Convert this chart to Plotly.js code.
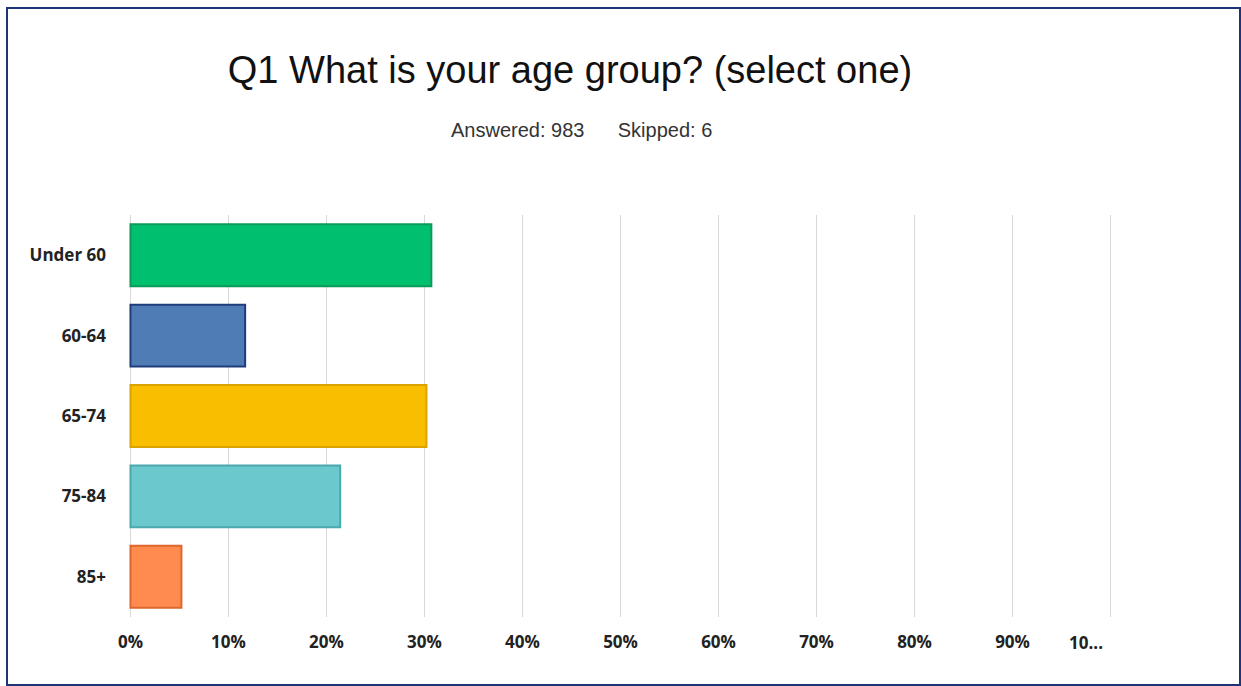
<!DOCTYPE html>
<html>
<head>
<meta charset="utf-8">
<script src="https://cdn.plot.ly/plotly-3.0.1.min.js"></script>
<style>
  html, body { margin: 0; padding: 0; background: #ffffff; }
  #wrap { position: relative; width: 1241px; height: 686px; overflow: hidden; }
  #frame { position: absolute; left: 6px; top: 7px; width: 1231px; height: 675px; border: 2px solid #1d3577; pointer-events: none; }
  #chart { position: absolute; left: 0; top: 0; width: 1241px; height: 686px; }
</style>
</head>
<body>
<div id="wrap">
  <div id="chart"></div>
  <div id="frame"></div>
</div>
<script>
const categories = ["Under 60", "60-64", "65-74", "75-84", "85+"];
const values = [30.7, 11.7, 30.2, 21.4, 5.2];
const fillColors = ["#00bf6f", "#507cb6", "#f9be00", "#6bc8cd", "#ff8b4f"];
const lineColors = ["#0b9a57", "#1f3d7a", "#d9a300", "#4aa8ae", "#de6730"];
const tickVals = [0, 10, 20, 30, 40, 50, 60, 70, 80, 90, 100];
const tickText = ["0%", "10%", "20%", "30%", "40%", "50%", "60%", "70%", "80%", "90%", ""];
const lastTickText = "10...";
const titleText = "Q1 What is your age group? (select one)";
const subtitleText = "Answered: 983&nbsp;&nbsp;&nbsp;&nbsp;&nbsp;&nbsp;Skipped: 6";

const tickFont = { family: "Open Sans, sans-serif", size: 17, color: "#222222", weight: 700 };

const trace = {
  type: "bar",
  orientation: "h",
  x: values,
  y: categories,
  marker: { color: fillColors, line: { color: lineColors, width: 2 } },
  hoverinfo: "none"
};

const layout = {
  width: 1241,
  height: 686,
  margin: { l: 129, r: 129, t: 215, b: 69 },
  paper_bgcolor: "#ffffff",
  plot_bgcolor: "#ffffff",
  showlegend: false,
  bargap: 0.23,
  title: {
    text: titleText,
    font: { family: "Liberation Sans, Arial, sans-serif", size: 38, color: "#111111" },
    x: 570 / 1241, xanchor: "center", xref: "container",
    y: 1 - 70 / 686, yanchor: "middle", yref: "container"
  },
  annotations: [{
    text: subtitleText,
    xref: "paper", yref: "paper",
    x: (581 - 129) / 983, y: (617 - 130) / 402,
    xanchor: "center", yanchor: "middle",
    showarrow: false,
    font: { family: "Liberation Sans, Arial, sans-serif", size: 20, color: "#333333" }
  }, {
    text: lastTickText,
    xref: "x", yref: "paper",
    x: 100, xshift: -25, y: -(642 - 617) / 402,
    xanchor: "center", yanchor: "middle",
    showarrow: false,
    font: tickFont
  }],
  xaxis: {
    range: [-0.15, 100.15],
    tickvals: tickVals,
    ticktext: tickText,
    showgrid: true,
    gridcolor: "#d9d9d9",
    gridwidth: 1.5,
    zeroline: false,
    showline: false,
    ticks: "",
    ticklabelstandoff: 13,
    tickfont: tickFont,
    fixedrange: true
  },
  yaxis: {
    autorange: "reversed",
    showgrid: false,
    zeroline: false,
    showline: false,
    ticks: "",
    ticklabelstandoff: 22,
    tickfont: tickFont,
    fixedrange: true
  }
};

Plotly.newPlot("chart", [trace], layout, { displayModeBar: false, staticPlot: true });
</script>
</body>
</html>
